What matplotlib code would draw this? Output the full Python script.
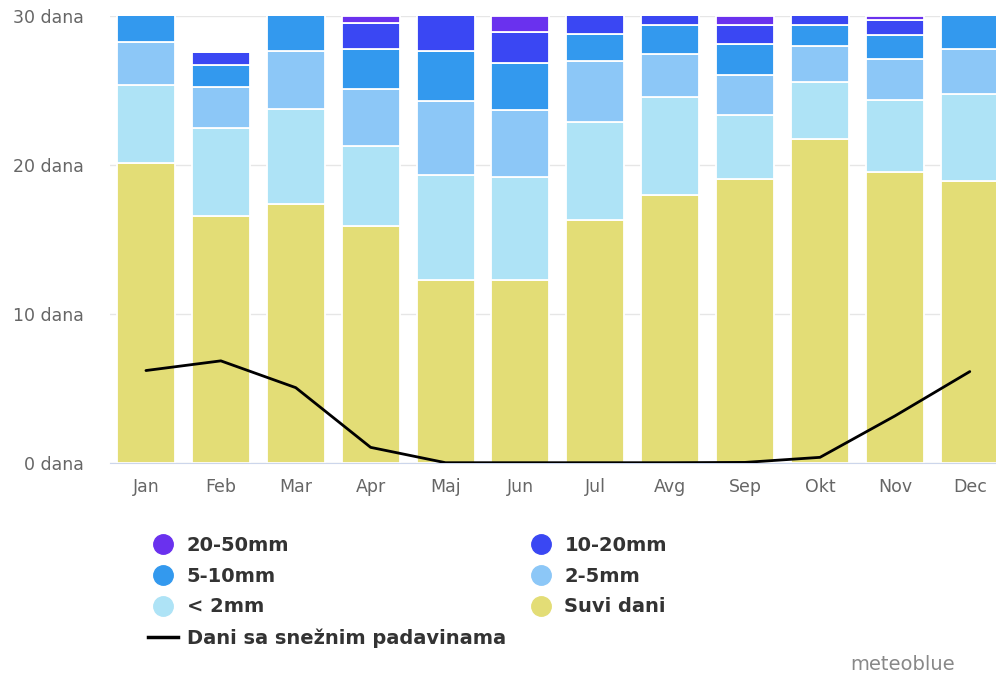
import numpy as np
import matplotlib
matplotlib.use("Agg")
import matplotlib.pyplot as plt
from matplotlib.lines import Line2D

# Monthly precipitation days (stacked from the bottom) and snow days
months = ["Jan", "Feb", "Mar", "Apr", "Maj", "Jun", "Jul", "Avg", "Sep", "Okt", "Nov", "Dec"]
dry_days = [20.1, 16.6, 17.35, 15.87, 12.3, 12.24, 16.27, 17.96, 19.03, 21.72, 19.5, 18.9]
under_2mm = [5.25, 5.85, 6.4, 5.38, 7.0, 6.93, 6.59, 6.59, 4.3, 3.83, 4.84, 5.85]
mm_2_5 = [2.9, 2.76, 3.9, 3.83, 4.98, 4.5, 4.1, 2.89, 2.69, 2.42, 2.76, 3.03]
mm_5_10 = [2.2, 1.48, 2.8, 2.69, 3.36, 3.16, 1.82, 1.95, 2.08, 1.41, 1.61, 2.6]
mm_10_20 = [0.55, 0.87, 0.5, 1.75, 2.8, 2.08, 1.6, 1.0, 1.28, 0.9, 1.0, 0.6]
mm_20_50 = [0.15, 0.0, 0.2, 0.48, 0.6, 1.09, 0.6, 0.6, 0.62, 0.4, 0.29, 0.2]
snow_days = [6.19, 6.84, 5.04, 1.03, 0.0, 0.0, 0.0, 0.0, 0.02, 0.36, 3.14, 6.12]

y_ticks = [0, 10, 20, 30]
y_tick_labels = [f"{t} dana" for t in y_ticks]

# series, bottom to top
series = [
    ("Suvi dani", dry_days, "#e3dd76"),
    ("< 2mm", under_2mm, "#aee3f6"),
    ("2-5mm", mm_2_5, "#8cc7f7"),
    ("5-10mm", mm_5_10, "#3399ee"),
    ("10-20mm", mm_10_20, "#3a47f3"),
    ("20-50mm", mm_20_50, "#6a31ee"),
]

fig = plt.figure(figsize=(9.96, 6.75), dpi=100)
ax = fig.add_axes([110 / 996, 1 - 462.7 / 675, 1 - 110 / 996, (462.7 - 16) / 675])

x = np.arange(len(months))
bottom = np.zeros(len(months))
colors = {}
for name, vals, col in series:
    vals = np.array(vals)
    ax.bar(x, vals, bottom=bottom, width=0.775, color=col, edgecolor="white",
           linewidth=1.3, zorder=2)
    bottom += vals
    colors[name] = col

ax.plot(x, snow_days, color="black", lw=2.0, zorder=4, solid_capstyle="round")

ax.set_xlim(-0.48, 11.35)
ax.set_ylim(0, 30)
ax.set_yticks(y_ticks)
ax.set_yticklabels(y_tick_labels)
ax.set_xticks(x)
ax.set_xticklabels(months)
ax.tick_params(axis="y", length=0, pad=19, labelsize=12.5, labelcolor="#666666")
ax.tick_params(axis="x", length=0, pad=11, labelsize=12.5, labelcolor="#666666")
ax.grid(axis="y", color="#e6e6e6", lw=1, zorder=0)
for s in ["top", "right", "left"]:
    ax.spines[s].set_visible(False)
ax.spines["bottom"].set_color("#ccd6eb")
ax.spines["bottom"].set_zorder(3)

def dot(col):
    return Line2D([], [], marker="o", ls="none", markersize=14, color=col)

# column-major order so rows read 20-50 | 10-20, 5-10 | 2-5, <2 | Suvi dani
handles = [dot(colors["20-50mm"]), dot(colors["5-10mm"]), dot(colors["< 2mm"]),
           Line2D([], [], color="black", lw=2.5),
           dot(colors["10-20mm"]), dot(colors["2-5mm"]), dot(colors["Suvi dani"])]
labels = ["20-50mm", "5-10mm", "< 2mm", "Dani sa snežnim padavinama",
          "10-20mm", "2-5mm", "Suvi dani"]
leg = fig.legend(handles, labels, ncol=2, loc="upper left",
                 bbox_to_anchor=(148 / 996, 1 - 536 / 675), frameon=False,
                 borderpad=0, borderaxespad=0, handlelength=1.55,
                 handletextpad=0.45, labelspacing=0.6, columnspacing=1.0,
                 prop={"weight": "bold", "size": 14})
for t in leg.get_texts():
    t.set_color("#333333")

fig.text(955 / 996, 1 - 665 / 675, "meteoblue", ha="right", va="center",
         fontsize=14, color="#888888")

fig.savefig("out.png", dpi=100)
